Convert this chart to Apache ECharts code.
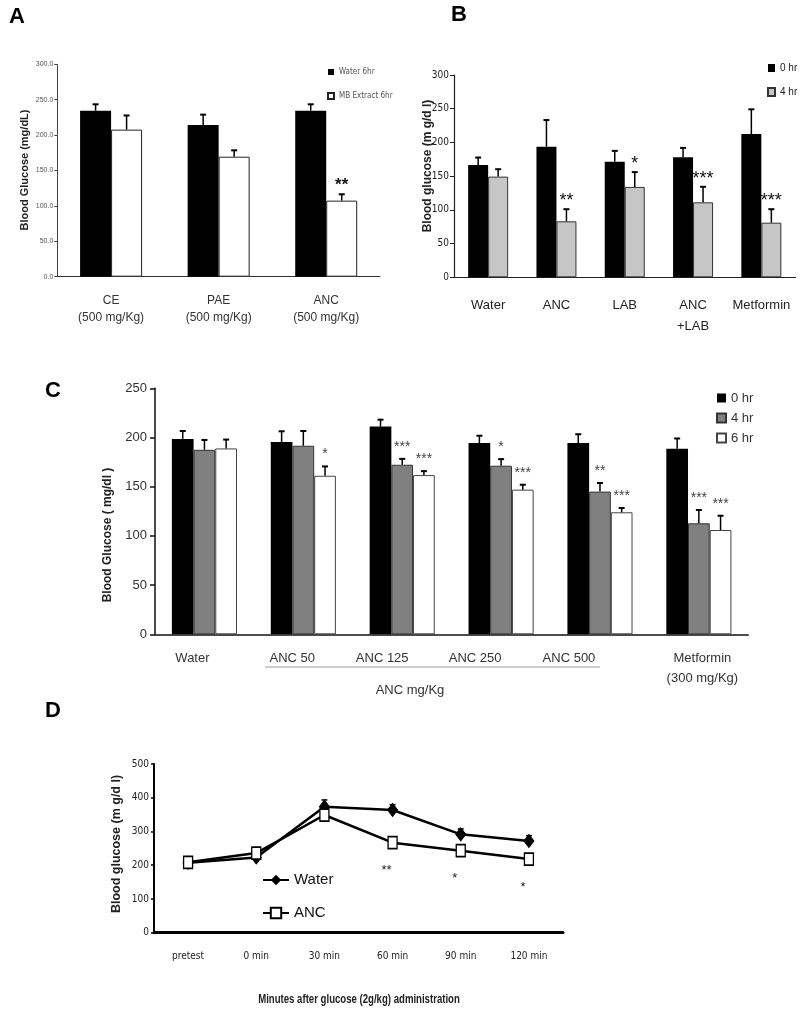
<!DOCTYPE html>
<html><head><meta charset="utf-8">
<script src="https://cdn.jsdelivr.net/npm/echarts@6/dist/echarts.min.js"></script>
<style>html,body{margin:0;padding:0;background:#fff}#c{width:800px;height:1010px}</style>
</head><body><div id="c"></div>
<script>
// ---------- Panel A ----------
const catsA = ['CE\n(500 mg/Kg)', 'PAE\n(500 mg/Kg)', 'ANC\n(500 mg/Kg)'];
const waterA = [234.5, 214.3, 234.5];
const waterA_se = [9, 14.6, 9];
const mbA = [207.7, 169.5, 107.4];
const mbA_se = [20, 9, 9];
const sigA_mb = ['', '', '**'];

// ---------- Panel B ----------
const catsB = ['Water', 'ANC', 'LAB', 'ANC\n+LAB', 'Metformin'];
const hr0B = [166.6, 193.7, 171.5, 177.9, 212.5];
const hr0B_se = [11, 39.5, 16, 14, 36.6];
const hr4B = [149.3, 83, 134, 111.2, 81];
const hr4B_se = [11, 18, 22, 23, 20];
const sigB_4 = ['', '**', '*', '***', '***'];

// ---------- Panel C ----------
const catsC = ['Water', 'ANC 50', 'ANC 125', 'ANC 250', 'ANC 500', 'Metformin\n(300 mg/Kg)'];
const hr0C = [198.6, 195.3, 211.1, 194.3, 194.3, 188.5];
const hr0C_se = [8, 11, 7, 7.5, 9, 10.5];
const hr4C = [187.5, 191.6, 172.3, 171.3, 145, 112.8];
const hr4C_se = [10, 15, 6, 6.7, 8.8, 13.5];
const hr6C = [188.9, 161.1, 161.8, 147, 124, 106];
const hr6C_se = [9, 9.5, 4, 5, 4.4, 14.5];
const sigC_4 = ['', '', '***', '*', '**', '***'];
const sigC_6 = ['', '*', '***', '***', '***', '***'];

// ---------- Panel D ----------
const catsD = ['pretest', '0 min', '30 min', '60 min', '90 min', '120 min'];
const waterD = [207.5, 223, 373.5, 363.6, 291.5, 271.7];
const waterD_se = [5, 8, 20, 16, 16, 16];
const ancD = [208.5, 236, 348.8, 266.8, 243, 218.4];
const sigD = ['', '', '', '**', '*', '*'];

const SANS = "'Liberation Sans', Arial, sans-serif";
const NARROW = "'Liberation Sans Narrow', 'Arial Narrow', 'DejaVu Sans Condensed', 'Liberation Sans', sans-serif";

// label placement in panel C (leftward shift of each category label, px)
const labelShiftC = [12, 11, 20, 26, 31, -3.5];

function errSeries(g, vals, ses, sigs, idx, n, bw, star) {
  return {
    type: 'custom', xAxisIndex: g, yAxisIndex: g, z: 5, silent: true,
    data: vals.map((v, i) => [i, v, ses[i]]),
    renderItem(params, api) {
      const i = api.value(0), v = api.value(1), e = api.value(2);
      const base = api.coord([i, v]);
      const top = api.coord([i, v + e]);
      const x = base[0] + (idx - (n - 1) / 2) * bw;
      const ch = [
        {type: 'line', shape: {x1: x, y1: base[1], x2: x, y2: top[1]}, style: {stroke: '#000', lineWidth: 1.5}},
        {type: 'line', shape: {x1: x - 3, y1: top[1], x2: x + 3, y2: top[1]}, style: {stroke: '#000', lineWidth: 2}}
      ];
      const s = sigs && sigs[params.dataIndex];
      if (s) ch.push({type: 'text', style: {text: s, x: x, y: top[1] - star.gap, align: 'center', verticalAlign: 'middle', font: star.font, fill: star.color}});
      return {type: 'group', children: ch};
    }
  };
}

const chart = echarts.init(document.getElementById('c'), null, {renderer: 'canvas'});

const bwA = 31, bwB = 20, bwC = 21.7;
const starA = {gap: 9, font: 'bold 17px ' + SANS, color: '#111'};
const starB = {gap: 8, font: '18px ' + SANS, color: '#111'};
const starC = {gap: 12, font: '14px ' + SANS, color: '#444'};

const catsCItems = catsC.map((c, i) => {
  const s = labelShiftC[i];
  return {value: c, textStyle: {padding: s >= 0 ? [0, 2 * s, 0, 0] : [0, 0, 0, -2 * s]}};
});

const option = {
  backgroundColor: '#fff',
  animation: false,
  grid: [
    {left: 57.3, top: 64.3, width: 322.7, height: 212.4, outerBoundsMode: 'none', containLabel: false},
    {left: 454, top: 75, width: 341.5, height: 202.3, outerBoundsMode: 'none', containLabel: false},
    {left: 155, top: 388.3, width: 593.3, height: 246, outerBoundsMode: 'none', containLabel: false},
    {left: 154, top: 764, width: 409, height: 168.7, outerBoundsMode: 'none', containLabel: false}
  ],
  xAxis: [
    {gridIndex: 0, type: 'category', data: catsA,
     axisLine: {lineStyle: {color: '#333', width: 1}}, axisTick: {length: 4, lineStyle: {color: '#333'}},
     axisLabel: {interval: 0, color: '#333', fontSize: 12, lineHeight: 17, margin: 15, fontFamily: SANS}},
    {gridIndex: 1, type: 'category', data: catsB,
     axisLine: {lineStyle: {color: '#222', width: 1.2}}, axisTick: {length: 4, lineStyle: {color: '#222'}},
     axisLabel: {interval: 0, color: '#222', fontSize: 13, lineHeight: 21, margin: 18, fontFamily: SANS}},
    {gridIndex: 2, type: 'category', data: catsCItems,
     axisLine: {lineStyle: {color: '#111', width: 1.5}}, axisTick: {length: 5, lineStyle: {color: '#111', width: 1.5}},
     axisLabel: {interval: 0, color: '#333', fontSize: 13, lineHeight: 20, margin: 14, fontFamily: SANS}},
    {gridIndex: 3, type: 'category', data: catsD,
     axisLine: {lineStyle: {color: '#000', width: 3}}, axisTick: {length: 5, lineStyle: {color: '#000', width: 2}},
     axisLabel: {interval: 0, color: '#222', fontSize: 10, margin: 19, fontFamily: NARROW}}
  ],
  yAxis: [
    {gridIndex: 0, type: 'value', min: 0, max: 300, interval: 50, splitLine: {show: false},
     axisLine: {show: true, lineStyle: {color: '#444'}}, axisTick: {show: true, length: 3, lineStyle: {color: '#444'}},
     axisLabel: {formatter: v => v.toFixed(1), fontSize: 7, color: '#555', margin: 4, fontFamily: SANS}},
    {gridIndex: 1, type: 'value', min: 0, max: 300, interval: 50, splitLine: {show: false},
     axisLine: {show: true, lineStyle: {color: '#222', width: 1.2}}, axisTick: {show: true, length: 4, lineStyle: {color: '#222'}},
     axisLabel: {fontSize: 10, color: '#222', margin: 5, fontFamily: NARROW}},
    {gridIndex: 2, type: 'value', min: 0, max: 250, interval: 50, splitLine: {show: false},
     axisLine: {show: true, lineStyle: {color: '#111', width: 1.5}}, axisTick: {show: true, length: 5, lineStyle: {color: '#111', width: 1.5}},
     axisLabel: {fontSize: 13, color: '#333', margin: 8, fontFamily: SANS}},
    {gridIndex: 3, type: 'value', min: 0, max: 500, interval: 100, splitLine: {show: false},
     axisLine: {show: true, lineStyle: {color: '#000', width: 2}}, axisTick: {show: true, length: 3, lineStyle: {color: '#000', width: 1.5}},
     axisLabel: {fontSize: 10, color: '#222', margin: 5, fontFamily: NARROW}}
  ],
  legend: [
    {data: ['Water 6hr', 'MB Extract 6hr'], orient: 'vertical', left: 327, top: 67, padding: 0,
     icon: 'rect', itemWidth: 6, itemHeight: 6, itemGap: 14, selectedMode: false,
     textStyle: {fontSize: 8, lineHeight: 10, color: '#555', fontFamily: NARROW}},
    {data: ['0 hr', '4 hr'], orient: 'vertical', left: 767, top: 62, padding: 0,
     icon: 'rect', itemWidth: 7, itemHeight: 8, itemGap: 12, selectedMode: false,
     textStyle: {fontSize: 10, lineHeight: 12, color: '#222', fontFamily: SANS}},
    {data: ['C 0 hr', 'C 4 hr', 'C 6 hr'], orient: 'vertical', left: 716, top: 391, padding: 0,
     icon: 'rect', itemWidth: 9, itemHeight: 9, itemGap: 6, selectedMode: false,
     formatter: n => n.replace('C ', ''),
     textStyle: {fontSize: 13, lineHeight: 14, color: '#333', fontFamily: SANS}},
    {data: ['Water', 'ANC'], orient: 'vertical', left: 262, top: 871, padding: 0,
     itemWidth: 26, itemHeight: 13, itemGap: 15, selectedMode: false,
     textStyle: {fontSize: 15, lineHeight: 18, color: '#111', fontFamily: SANS}}
  ],
  series: [
    // A
    {name: 'Water 6hr', type: 'bar', xAxisIndex: 0, yAxisIndex: 0, data: waterA, barWidth: bwA, barGap: '0%',
     itemStyle: {color: '#000'}},
    {name: 'MB Extract 6hr', type: 'bar', xAxisIndex: 0, yAxisIndex: 0, data: mbA, barWidth: bwA, barGap: '0%',
     itemStyle: {color: '#fff', borderColor: '#222', borderWidth: 1}},
    errSeries(0, waterA, waterA_se, null, 0, 2, bwA, starA),
    errSeries(0, mbA, mbA_se, sigA_mb, 1, 2, bwA, starA),
    // B
    {name: '0 hr', type: 'bar', xAxisIndex: 1, yAxisIndex: 1, data: hr0B, barWidth: bwB, barGap: '0%',
     itemStyle: {color: '#000'}},
    {name: '4 hr', type: 'bar', xAxisIndex: 1, yAxisIndex: 1, data: hr4B, barWidth: bwB, barGap: '0%',
     itemStyle: {color: '#c6c6c6', borderColor: '#333', borderWidth: 1}},
    errSeries(1, hr0B, hr0B_se, null, 0, 2, bwB, starB),
    errSeries(1, hr4B, hr4B_se, sigB_4, 1, 2, bwB, starB),
    // C
    {name: 'C 0 hr', type: 'bar', xAxisIndex: 2, yAxisIndex: 2, data: hr0C, barWidth: bwC, barGap: '0%',
     itemStyle: {color: '#000'}},
    {name: 'C 4 hr', type: 'bar', xAxisIndex: 2, yAxisIndex: 2, data: hr4C, barWidth: bwC, barGap: '0%',
     itemStyle: {color: '#808080', borderColor: '#333', borderWidth: 1}},
    {name: 'C 6 hr', type: 'bar', xAxisIndex: 2, yAxisIndex: 2, data: hr6C, barWidth: bwC, barGap: '0%',
     itemStyle: {color: '#fff', borderColor: '#444', borderWidth: 1}},
    errSeries(2, hr0C, hr0C_se, null, 0, 3, bwC, starC),
    errSeries(2, hr4C, hr4C_se, sigC_4, 1, 3, bwC, starC),
    errSeries(2, hr6C, hr6C_se, sigC_6, 2, 3, bwC, starC),
    // D
    {name: 'Water', type: 'line', xAxisIndex: 3, yAxisIndex: 3, data: waterD,
     symbol: 'diamond', symbolSize: [10, 13], lineStyle: {color: '#000', width: 2.5},
     itemStyle: {color: '#000', borderColor: '#000'}, z: 3},
    {name: 'ANC', type: 'line', xAxisIndex: 3, yAxisIndex: 3, data: ancD,
     symbol: 'rect', symbolSize: [9, 12], lineStyle: {color: '#000', width: 2.5},
     itemStyle: {color: '#fff', borderColor: '#000', borderWidth: 1.5}, z: 4},
    {type: 'custom', xAxisIndex: 3, yAxisIndex: 3, z: 2, silent: true,
     data: waterD.map((v, i) => [i, v, waterD_se[i]]),
     renderItem(params, api) {
       const i = api.value(0), v = api.value(1), e = api.value(2);
       const p = api.coord([i, v]), t = api.coord([i, v + e]);
       return {type: 'group', children: [
         {type: 'line', shape: {x1: p[0], y1: p[1], x2: p[0], y2: t[1]}, style: {stroke: '#000', lineWidth: 1.5}},
         {type: 'line', shape: {x1: p[0] - 3, y1: t[1], x2: p[0] + 3, y2: t[1]}, style: {stroke: '#000', lineWidth: 1.5}}
       ]};
     }},
    {type: 'custom', xAxisIndex: 3, yAxisIndex: 3, z: 5, silent: true,
     data: ancD.map((v, i) => [i, v]),
     renderItem(params, api) {
       const s = sigD[params.dataIndex];
       if (!s) return null;
       const p = api.coord([api.value(0), api.value(1)]);
       return {type: 'text', style: {text: s, x: p[0] - 6, y: p[1] + 28, align: 'center', verticalAlign: 'middle',
         font: '13px ' + SANS, fill: '#222'}};
     }}
  ],
  graphic: [
    {type: 'text', x: 17, y: 17, style: {text: 'A', font: 'bold 22px ' + SANS, fill: '#000', align: 'center', verticalAlign: 'middle'}},
    {type: 'text', x: 459, y: 15, style: {text: 'B', font: 'bold 22px ' + SANS, fill: '#000', align: 'center', verticalAlign: 'middle'}},
    {type: 'text', x: 53, y: 391, style: {text: 'C', font: 'bold 22px ' + SANS, fill: '#000', align: 'center', verticalAlign: 'middle'}},
    {type: 'text', x: 53, y: 711, style: {text: 'D', font: 'bold 22px ' + SANS, fill: '#000', align: 'center', verticalAlign: 'middle'}},
    {type: 'text', x: 25, y: 170, rotation: Math.PI / 2,
     style: {text: 'Blood Glucose (mg/dL)', font: 'bold 11px ' + SANS, fill: '#222', align: 'center', verticalAlign: 'middle'}},
    {type: 'text', x: 428, y: 166, rotation: Math.PI / 2,
     style: {text: 'Blood glucose (m g/d l)', font: 'bold 12px ' + SANS, fill: '#222', align: 'center', verticalAlign: 'middle'}},
    {type: 'text', x: 108, y: 535, rotation: Math.PI / 2,
     style: {text: 'Blood Glucose ( mg/dl )', font: 'bold 12px ' + SANS, fill: '#222', align: 'center', verticalAlign: 'middle'}},
    {type: 'text', x: 117, y: 844, rotation: Math.PI / 2,
     style: {text: 'Blood glucose (m g/d l)', font: 'bold 12.5px ' + SANS, fill: '#222', align: 'center', verticalAlign: 'middle'}},
    {type: 'line', shape: {x1: 265, y1: 667, x2: 600, y2: 667}, style: {stroke: '#bbb', lineWidth: 1.5}},
    {type: 'text', x: 410, y: 690, style: {text: 'ANC mg/Kg', font: '13px ' + SANS, fill: '#333', align: 'center', verticalAlign: 'middle'}},
    {type: 'text', x: 359, y: 1000, scaleX: 0.8,
     style: {text: 'Minutes after glucose (2g/kg) administration', font: 'bold 12px ' + SANS, fill: '#222', align: 'center', verticalAlign: 'middle'}}
  ]
};
chart.setOption(option);
</script>
</body></html>
